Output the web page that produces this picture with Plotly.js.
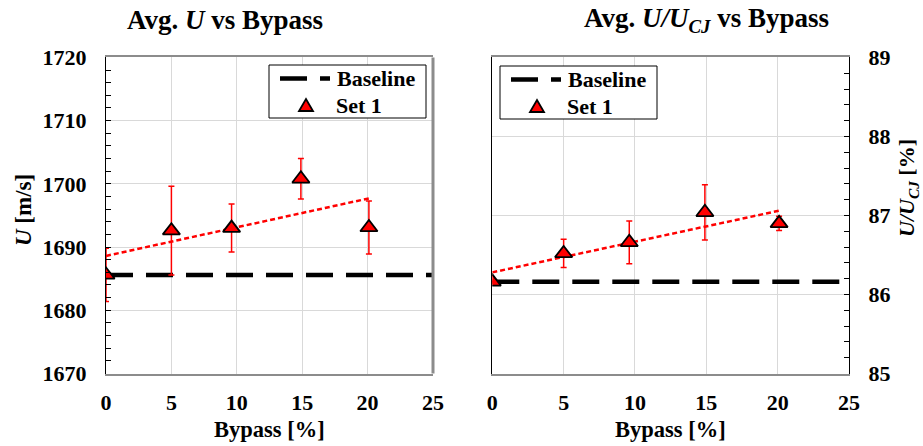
<!DOCTYPE html>
<html>
<head>
<meta charset="utf-8">
<script src="https://cdn.plot.ly/plotly-3.0.1.min.js"></script>
<style>html,body{margin:0;padding:0;background:#fff;}#chart{width:923px;height:446px;}</style>
</head>
<body>
<div id="chart"></div>
<script>
// ---- data ----
const bypass = [0, 5, 9.6, 14.9, 20.1];

const uSet1 = [1685.6, 1692.6, 1693.0, 1700.8, 1693.1];
const uErr = [4.2, 7.0, 3.8, 3.2, 4.2];
const uBaselineX = [0, 25];
const uBaselineY = [1685.6, 1685.6];
const uTrendX = [0, 20.1];
const uTrendY = [1688.6, 1697.7];

const ratioSet1 = [86.16, 86.52, 86.66, 87.04, 86.90];
const ratioErr = [0, 0.18, 0.27, 0.35, 0.09];
const ratioBaselineX = [0, 25];
const ratioBaselineY = [86.16, 86.16];
const ratioTrendX = [0, 20.1];
const ratioTrendY = [86.28, 87.06];

const xTicks = [0, 5, 10, 15, 20, 25];
const uTicks = [1670, 1680, 1690, 1700, 1710, 1720];
const ratioTicks = [85, 86, 87, 88, 89];
const legendNames = ["Baseline", "Set 1"];

// ---- styling ----
const FONT = '"Liberation Serif", "Times New Roman", Times, serif';
const bold = (size) => ({family: FONT, size: size, color: "#000", weight: "bold"});
const W = 923, H = 446;
const px = v => v / W;
const py = v => 1 - v / H;

const baseLine = {color: "#000", width: 4.5, dash: "27px,13px"};
const trendLine = {color: "#ff0000", width: 2.5, dash: "5px,3px"};
const marker = {symbol: "triangle-up", size: 15, color: "#ff0000", line: {color: "#000", width: 1.8}};

const traces = [
  {x: uTrendX, y: uTrendY, xaxis: "x", yaxis: "y", mode: "lines", line: trendLine, showlegend: false, hoverinfo: "skip"},
  {x: uBaselineX, y: uBaselineY, xaxis: "x", yaxis: "y", mode: "lines", line: baseLine, name: legendNames[0], showlegend: false},
  {x: bypass, y: uSet1, xaxis: "x", yaxis: "y", mode: "markers", marker: marker, name: legendNames[1], showlegend: false,
   error_y: {type: "data", array: uErr, visible: true, color: "#ff0000", thickness: 1.5, width: 3}},

  {x: ratioTrendX, y: ratioTrendY, xaxis: "x2", yaxis: "y2", mode: "lines", line: trendLine, showlegend: false, hoverinfo: "skip"},
  {x: ratioBaselineX, y: ratioBaselineY, xaxis: "x2", yaxis: "y2", mode: "lines", line: baseLine, name: legendNames[0], showlegend: false},
  {x: bypass, y: ratioSet1, xaxis: "x2", yaxis: "y2", mode: "markers", marker: marker, name: legendNames[1], showlegend: false,
   error_y: {type: "data", array: ratioErr, visible: true, color: "#ff0000", thickness: 1.5, width: 3}}
];

const yDom = [py(373.5), py(57.4)];
const xAxisCommon = {
  range: [0, 25], tickvals: xTicks, ticks: "", showgrid: true, gridcolor: "#d9d9d9", gridwidth: 1,
  showline: true, linecolor: "#8c8c8c", linewidth: 2, mirror: true, zeroline: false,
  tickfont: bold(22), ticklabelstandoff: 8, fixedrange: true
};

// ---- hand-drawn legend boxes (paper coordinates, in pixels) ----
function legendShapes(left, top) {
  const w = 157, h = 53;
  const r1 = top + 13.5, r2 = top + 40;
  const tx = left + 37, tw = 7, th = 6;
  return [
    {type: "rect", xref: "paper", yref: "paper", x0: px(left), x1: px(left + w), y0: py(top + h), y1: py(top),
     line: {color: "#000", width: 1}, fillcolor: "#fff", layer: "above"},
    {type: "line", xref: "paper", yref: "paper", x0: px(left + 11), x1: px(left + 61), y0: py(r1), y1: py(r1),
     line: {color: "#000", width: 4.5, dash: "27px,13px"}, layer: "above"},
    {type: "path", xref: "paper", yref: "paper",
     path: `M${px(tx - tw)},${py(r2 + th)} L${px(tx + tw)},${py(r2 + th)} L${px(tx)},${py(r2 - th)} Z`,
     fillcolor: "#ff0000", line: {color: "#000", width: 1.8}, layer: "above"}
  ];
}
function legendTexts(left, top) {
  return [
    {text: legendNames[0], xref: "paper", yref: "paper", x: px(left + 66), y: py(top + 13.5), xanchor: "left", yanchor: "middle",
     showarrow: false, font: bold(22)},
    {text: legendNames[1], xref: "paper", yref: "paper", x: px(left + 65), y: py(top + 40), xanchor: "left", yanchor: "middle",
     showarrow: false, font: bold(22)}
  ];
}

const layout = {
  width: W, height: H,
  margin: {l: 0, r: 0, t: 0, b: 0},
  paper_bgcolor: "#fff", plot_bgcolor: "#fff",
  font: {family: FONT, color: "#000"},
  showlegend: false,
  xaxis: Object.assign({}, xAxisCommon, {domain: [px(106), px(433)], anchor: "y"}),
  yaxis: {
    domain: yDom, anchor: "x", range: [1670, 1720], tickvals: uTicks,
    ticks: "inside", ticklen: 5, tickcolor: "#000", tickwidth: 1,
    minor: {dtick: 2, ticks: "inside", ticklen: 5, tickcolor: "#000", showgrid: false},
    showgrid: true, gridcolor: "#d9d9d9", showline: true, linecolor: "#000", linewidth: 1.2,
    zeroline: false, tickfont: bold(22), ticklabelstandoff: 14, fixedrange: true
  },
  xaxis2: Object.assign({}, xAxisCommon, {domain: [px(492.3), px(849)], anchor: "y2"}),
  yaxis2: {
    domain: yDom, anchor: "x2", side: "right", range: [85, 89], tickvals: ratioTicks,
    ticks: "inside", ticklen: 5, tickcolor: "#000", tickwidth: 1,
    minor: {dtick: 0.2, ticks: "inside", ticklen: 5, tickcolor: "#000", showgrid: false},
    showgrid: true, gridcolor: "#d9d9d9", showline: true, linecolor: "#000", linewidth: 1.2, mirror: true,
    zeroline: false, tickfont: bold(22), ticklabelstandoff: 14, fixedrange: true
  },
  shapes: [
    {type: "line", xref: "x domain", yref: "y domain", x0: 1, x1: 1, y0: 0, y1: 1,
     line: {color: "#8c8c8c", width: 3}, layer: "above"}
  ].concat(legendShapes(269, 65), legendShapes(500, 66)),
  annotations: [
    {text: "Avg. <i>U</i> vs Bypass", xref: "paper", yref: "paper", x: px(225), y: py(20),
     xanchor: "center", yanchor: "middle", showarrow: false, font: bold(27)},
    {text: "Avg. <i>U/U<sub>CJ</sub></i> vs Bypass", xref: "paper", yref: "paper", x: px(706), y: py(20),
     xanchor: "center", yanchor: "middle", showarrow: false, font: bold(27)},
    {text: "Bypass [%]", xref: "paper", yref: "paper", x: px(269.5), y: py(429),
     xanchor: "center", yanchor: "middle", showarrow: false, font: bold(22.5)},
    {text: "Bypass [%]", xref: "paper", yref: "paper", x: px(670), y: py(429),
     xanchor: "center", yanchor: "middle", showarrow: false, font: bold(22.5)},
    {text: "<i>U</i> [m/s]", xref: "paper", yref: "paper", x: px(23), y: py(210),
     xanchor: "center", yanchor: "middle", showarrow: false, textangle: -90, font: bold(23)},
    {text: "<i>U/U<sub>CJ</sub></i> [%]", xref: "paper", yref: "paper", x: px(908), y: py(188),
     xanchor: "center", yanchor: "middle", showarrow: false, textangle: -90, font: bold(22)}
  ].concat(legendTexts(269, 65), legendTexts(500, 66))
};

Plotly.newPlot("chart", traces, layout, {displayModeBar: false, staticPlot: true});
</script>
</body>
</html>
